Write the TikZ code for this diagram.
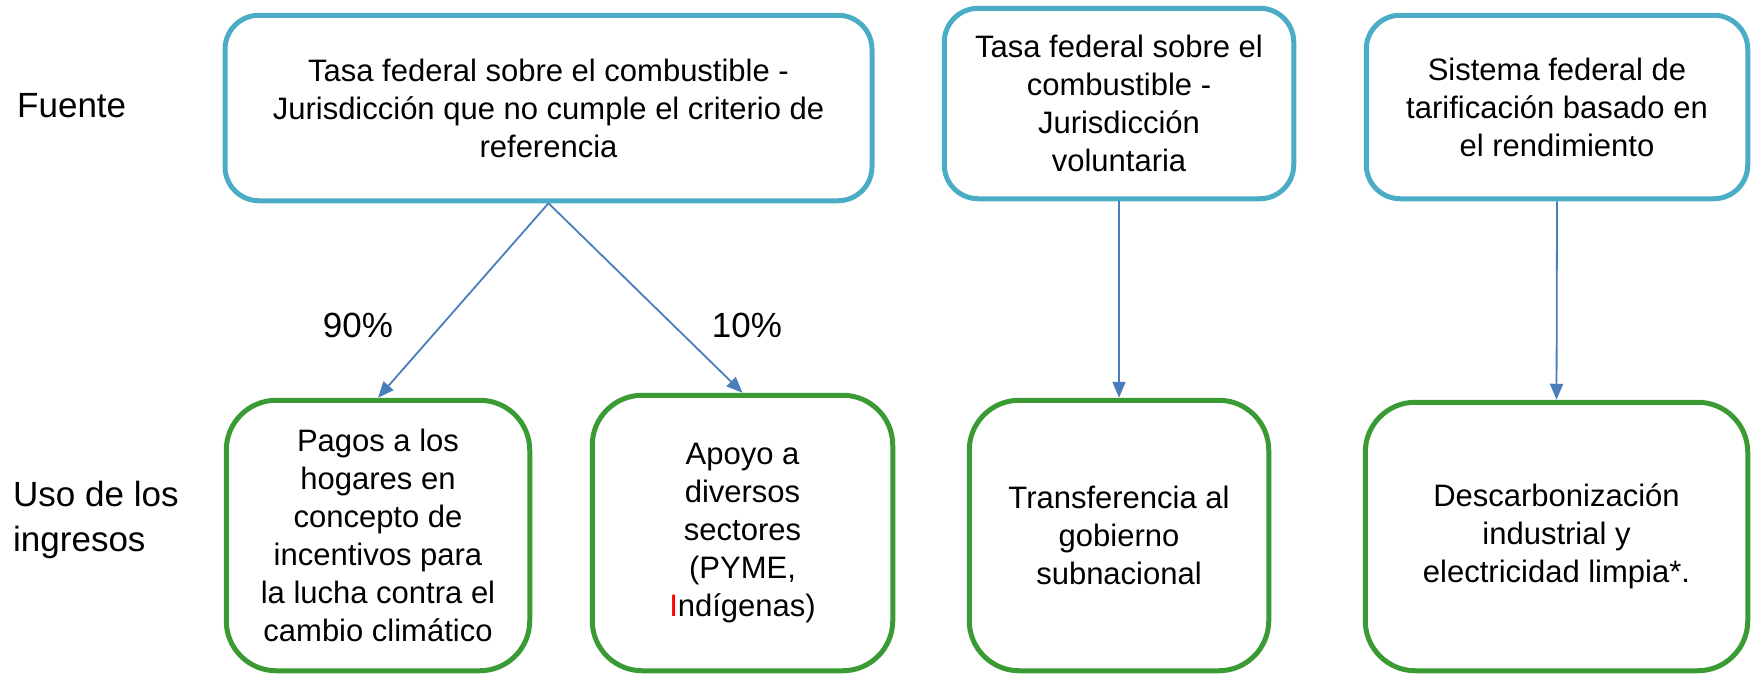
\documentclass[tikz,border=0pt]{standalone}
\usepackage{fontspec}
\setmainfont{Liberation Sans}
\usetikzlibrary{arrows.meta}
\definecolor{srcblue}{RGB}{75,172,198}
\definecolor{usegreen}{RGB}{58,155,53}
\definecolor{arrowblue}{RGB}{74,126,187}
\begin{document}
\begin{tikzpicture}[x=1pt,y=1pt,
  src/.style={draw=srcblue, line width=5pt, rounded corners=34pt, align=center, inner sep=0pt, font=\fontsize{31}{38}\selectfont},
  use/.style={draw=usegreen, line width=5pt, rounded corners=50pt, align=center, inner sep=0pt, font=\fontsize{31}{38}\selectfont},
  conn/.style={draw=arrowblue, line width=1.8pt, -{Triangle[length=16pt,width=13pt]}},
  lbl/.style={font=\fontsize{35}{45}\selectfont, inner sep=0pt}]
\useasboundingbox (0,0) rectangle (1752,-675);
% source boxes
\node[src, minimum width=647, minimum height=185.5] (s1) at (548.5,-108) {Tasa federal sobre el combustible -\\Jurisdicción que no cumple el criterio de\\referencia};
\node[src, minimum width=349.5, minimum height=190.5] (s2) at (1119,-103.5) {Tasa federal sobre el\\combustible -\\Jurisdicción\\voluntaria};
\node[src, minimum width=381.5, minimum height=183.5] (s3) at (1557,-107) {Sistema federal de\\tarificación basado en\\el rendimiento};
% use boxes
\node[use, minimum width=303.5, minimum height=270.5] (u1) at (378,-535.5) {Pagos a los\\hogares en\\concepto de\\incentivos para\\la lucha contra el\\cambio climático};
\node[use, minimum width=300.5, minimum height=275.5] (u2) at (742.5,-533) {Apoyo a\\diversos\\sectores\\(PYME,\\{\color{red}I}ndígenas)};
\node[use, minimum width=299.5, minimum height=270.5] (u3) at (1119,-535.5) {Transferencia al\\gobierno\\subnacional};
\node[use, minimum width=382.5, minimum height=268.5] (u4) at (1556.5,-536.5) {Descarbonización\\industrial y\\electricidad limpia*.};
% row labels
\node[lbl, anchor=base west] (fuente) at (17,-117) {Fuente};
\node[lbl, align=left, anchor=west] (uso) at (13,-520) {Uso de los\\ingresos};
% connectors
\draw[conn] (s1.south) -- (u1.north);
\draw[conn] (s1.south) -- (u2.north);
\draw[conn] (s2.south) -- (u3.north);
\draw[conn] (s3.south) -- (u4.north);
% percentages
\node[lbl, anchor=base] (p90) at (358,-337) {90\%};
\node[lbl, anchor=base] (p10) at (747,-337) {10\%};
\end{tikzpicture}
\end{document}
